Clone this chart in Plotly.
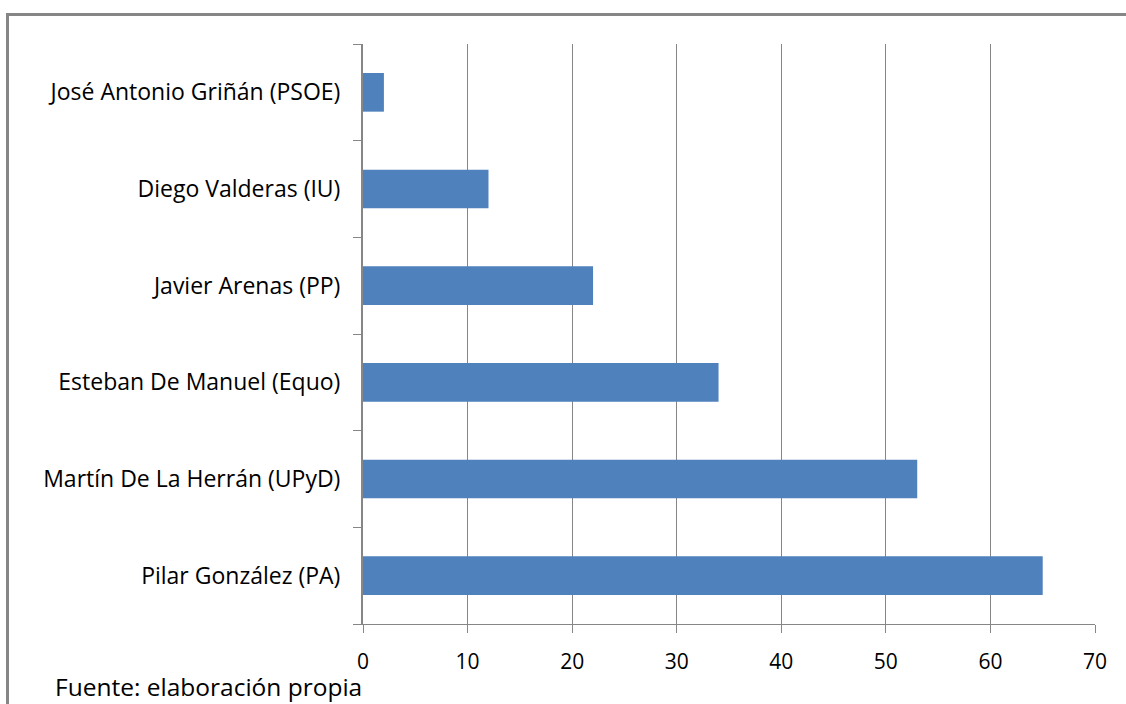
import plotly.graph_objects as go

categories = [
    "Pilar González (PA)",
    "Martín De La Herrán (UPyD)",
    "Esteban De Manuel (Equo)",
    "Javier Arenas (PP)",
    "Diego Valderas (IU)",
    "José Antonio Griñán (PSOE)",
]
values = [65, 53, 34, 22, 12, 2]
x_ticks = [0, 10, 20, 30, 40, 50, 60, 70]

W, H = 1126, 704
L, R, T, B = 363, 1095, 44, 624
pw, ph = R - L, B - T

def px_x(p):
    return (p - L) / pw

def px_y(p):
    return (B - p) / ph

font = "'Open Sans', sans-serif"
grey = "#868686"

fig = go.Figure(go.Bar(
    x=values, y=categories, orientation="h",
    marker=dict(color="#4F81BD", line=dict(width=0)),
    width=0.4,
))

fig.update_layout(
    width=W, height=H,
    margin=dict(l=L, r=W - R, t=T, b=H - B, pad=0),
    paper_bgcolor="white", plot_bgcolor="white",
    showlegend=False,
    font=dict(family=font, size=20, color="#000000"),
    xaxis=dict(
        range=[0, 70], tickvals=x_ticks, ticktext=[str(v) for v in x_ticks],
        showgrid=True, gridcolor=grey, gridwidth=1,
        ticks="outside", ticklen=8, tickcolor=grey, tickwidth=1,
        showline=True, linecolor=grey, linewidth=1,
        zeroline=False, fixedrange=True,
        ticklabelstandoff=11,
        tickfont=dict(size=21),
    ),
    yaxis=dict(
        categoryorder="array", categoryarray=categories,
        showgrid=False, tickson="boundaries",
        ticks="outside", ticklen=8, tickcolor=grey, tickwidth=1,
        showline=True, linecolor=grey, linewidth=2,
        zeroline=False, fixedrange=True,
        ticklabelstandoff=16,
        tickfont=dict(size=23),
    ),
    shapes=[
        dict(type="rect", xref="paper", yref="paper",
             x0=px_x(7.5), x1=px_x(W + 20), y0=px_y(14.5), y1=px_y(H + 20),
             line=dict(color=grey, width=3), fillcolor="rgba(0,0,0,0)", layer="above"),
    ],
    annotations=[
        dict(text="Fuente: elaboración propia", xref="paper", yref="paper",
             x=px_x(53), y=px_y(686), xanchor="left", yanchor="middle",
             showarrow=False, font=dict(size=24.5, family=font, color="#000000")),
    ],
)

fig.write_html("out.html")
